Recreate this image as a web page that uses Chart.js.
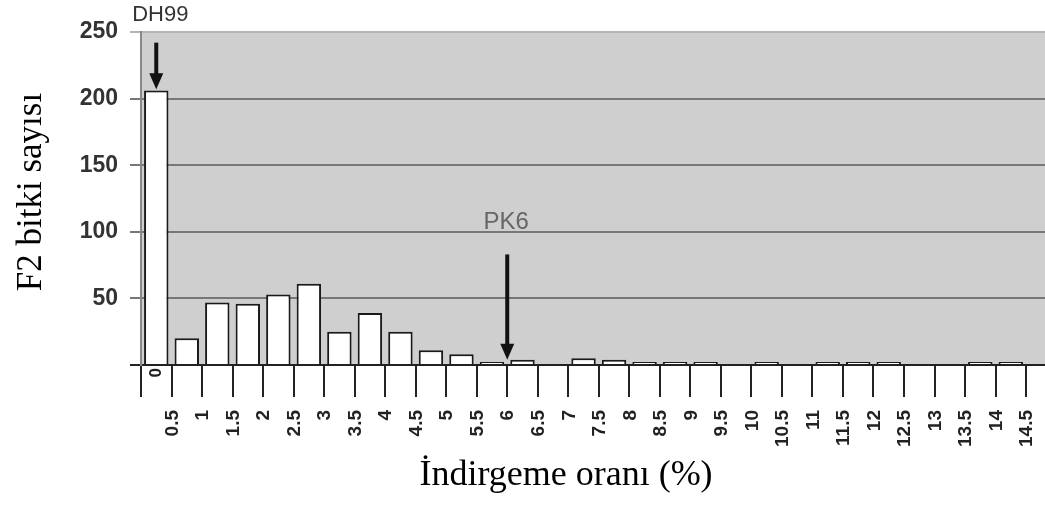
<!DOCTYPE html>
<html>
<head>
<meta charset="utf-8">
<script src="https://cdn.jsdelivr.net/npm/chart.js@4/dist/chart.umd.min.js"></script>
<style>
  html, body { margin: 0; padding: 0; background: #fff; }
  #wrap { width: 1045px; height: 505px; position: relative; }
</style>
</head>
<body>
<div id="wrap"><canvas id="chart" width="1045" height="505"></canvas></div>
<script>
// bin centres (İndirgeme oranı, %) - each bin is 0.5 wide
const binCenters = [0.25, 0.75, 1.25, 1.75, 2.25, 2.75, 3.25, 3.75, 4.25, 4.75,
  5.25, 5.75, 6.25, 6.75, 7.25, 7.75, 8.25, 8.75, 9.25, 9.75,
  10.25, 10.75, 11.25, 11.75, 12.25, 12.75, 13.25, 13.75, 14.25];
// F2 bitki sayısı per bin
const plantCounts = [206, 20, 47, 46, 53, 61, 25, 39, 25, 11,
  8, 1, 4, 0, 5, 4, 1, 1, 1, 0,
  1, 0, 1, 1, 1, 0, 0, 1, 1];
const yTicks = [0, 50, 100, 150, 200, 250];
const markers = [
  { label: "DH99", x: 0.25, from: 242, to: 207, labelY: 258 },
  { label: "PK6", x: 6, from: 83, to: 4, labelY: 102 },
];

// empty bins get no bar
const points = binCenters
  .map((x, i) => ({ x: x, y: plantCounts[i] }))
  .filter((p) => p.y > 0);

// gray plot background
const plotBg = {
  id: "plotBg",
  beforeDraw(chart) {
    const { ctx, chartArea } = chart;
    ctx.save();
    ctx.fillStyle = "#cfcfcf";
    ctx.fillRect(chartArea.left, chartArea.top, chartArea.right - chartArea.left, chartArea.bottom - chartArea.top);
    ctx.restore();
  },
};

// rotated x tick labels, titles and arrows
const extras = {
  id: "extras",
  afterDraw(chart) {
    const ctx = chart.ctx;
    const xs = chart.scales.x;
    const ys = chart.scales.y;

    ctx.save();
    ctx.fillStyle = "#222";
    ctx.font = "bold 19px 'Liberation Sans', Arial, sans-serif";
    ctx.textBaseline = "middle";
    xs.ticks.forEach((t) => {
      const px = xs.getPixelForValue(t.value);
      ctx.save();
      if (t.value === 0) {
        ctx.font = "bold 17px 'Liberation Sans', Arial, sans-serif";
        ctx.translate(px + 15, ys.bottom + 3);
        ctx.rotate(-Math.PI / 2);
        ctx.textAlign = "right";
        ctx.fillText("0", 0, 0);
      } else {
        ctx.translate(px + 1, ys.bottom + 45);
        ctx.rotate(-Math.PI / 2);
        ctx.textAlign = "right";
        ctx.fillText(String(t.value), 0, 0);
      }
      ctx.restore();
    });

    // axis titles
    ctx.fillStyle = "#000";
    ctx.textAlign = "center";
    ctx.textBaseline = "middle";
    ctx.font = "36px 'Liberation Serif', 'Times New Roman', serif";
    ctx.fillText("İndirgeme oranı (%)", 566, 476);
    ctx.save();
    ctx.font = "35px 'Liberation Serif', 'Times New Roman', serif";
    ctx.translate(32, 192);
    ctx.rotate(-Math.PI / 2);
    ctx.fillText("F2 bitki sayısı", 0, 0);
    ctx.restore();

    // arrows + labels
    markers.forEach((m) => {
      const px = xs.getPixelForValue(m.x);
      const y0 = ys.getPixelForValue(m.from);
      const y1 = ys.getPixelForValue(m.to);
      ctx.strokeStyle = "#111";
      ctx.fillStyle = "#111";
      ctx.lineWidth = 4;
      ctx.beginPath();
      ctx.moveTo(px, y0);
      ctx.lineTo(px, y1 - 14);
      ctx.stroke();
      ctx.beginPath();
      ctx.moveTo(px - 7, y1 - 16);
      ctx.lineTo(px + 7, y1 - 16);
      ctx.lineTo(px, y1);
      ctx.closePath();
      ctx.fill();

      const isDH = m.label === "DH99";
      ctx.fillStyle = isDH ? "#333" : "#666";
      ctx.font = (isDH ? "22px" : "24px") + " 'Liberation Sans', Arial, sans-serif";
      ctx.textAlign = "center";
      ctx.textBaseline = "alphabetic";
      ctx.fillText(m.label, px + (isDH ? 4 : -1), ys.getPixelForValue(m.labelY));
    });
    ctx.restore();
  },
};

new Chart(document.getElementById("chart"), {
  type: "bar",
  data: {
    datasets: [{
      data: points,
      backgroundColor: "#ffffff",
      borderColor: "#1a1a1a",
      borderWidth: 2,
      minBarLength: 3,
      barPercentage: 0.8,
      categoryPercentage: 1.0,
    }],
  },
  options: {
    responsive: false,
    animation: false,
    events: [],
    layout: { padding: { top: 32, right: 0, left: 0, bottom: 0 } },
    plugins: { legend: { display: false }, tooltip: { enabled: false } },
    scales: {
      x: {
        type: "linear",
        offset: false,
        min: 0,
        max: 14.81,
        afterFit: (s) => { s.height = 140; },
        ticks: { stepSize: 0.5, includeBounds: false, display: false, autoSkip: false },
        grid: { offset: false, drawOnChartArea: false, drawTicks: true, tickLength: 32, color: "#222", lineWidth: 2 },
        border: { display: true, color: "#222", width: 2 },
      },
      y: {
        min: 0,
        max: 250,
        afterFit: (s) => { s.width = 141; },
        afterBuildTicks: (s) => { s.ticks = yTicks.map((v) => ({ value: v })); },
        ticks: {
          stepSize: 50,
          color: "#333",
          padding: 12,
          font: { family: "'Liberation Sans', Arial, sans-serif", size: 23, weight: "bold" },
          callback: (v) => (v === 0 ? "" : v),
        },
        grid: {
          tickLength: 11,
          lineWidth: 2,
          color: (c) => (c.tick && c.tick.value === 0 ? "#222" : c.tick && c.tick.value === 250 ? "#b5b5b5" : "#777"),
        },
        border: { display: true, color: "#888", width: 2 },
      },
    },
  },
  plugins: [plotBg, extras],
});
</script>
</body>
</html>
